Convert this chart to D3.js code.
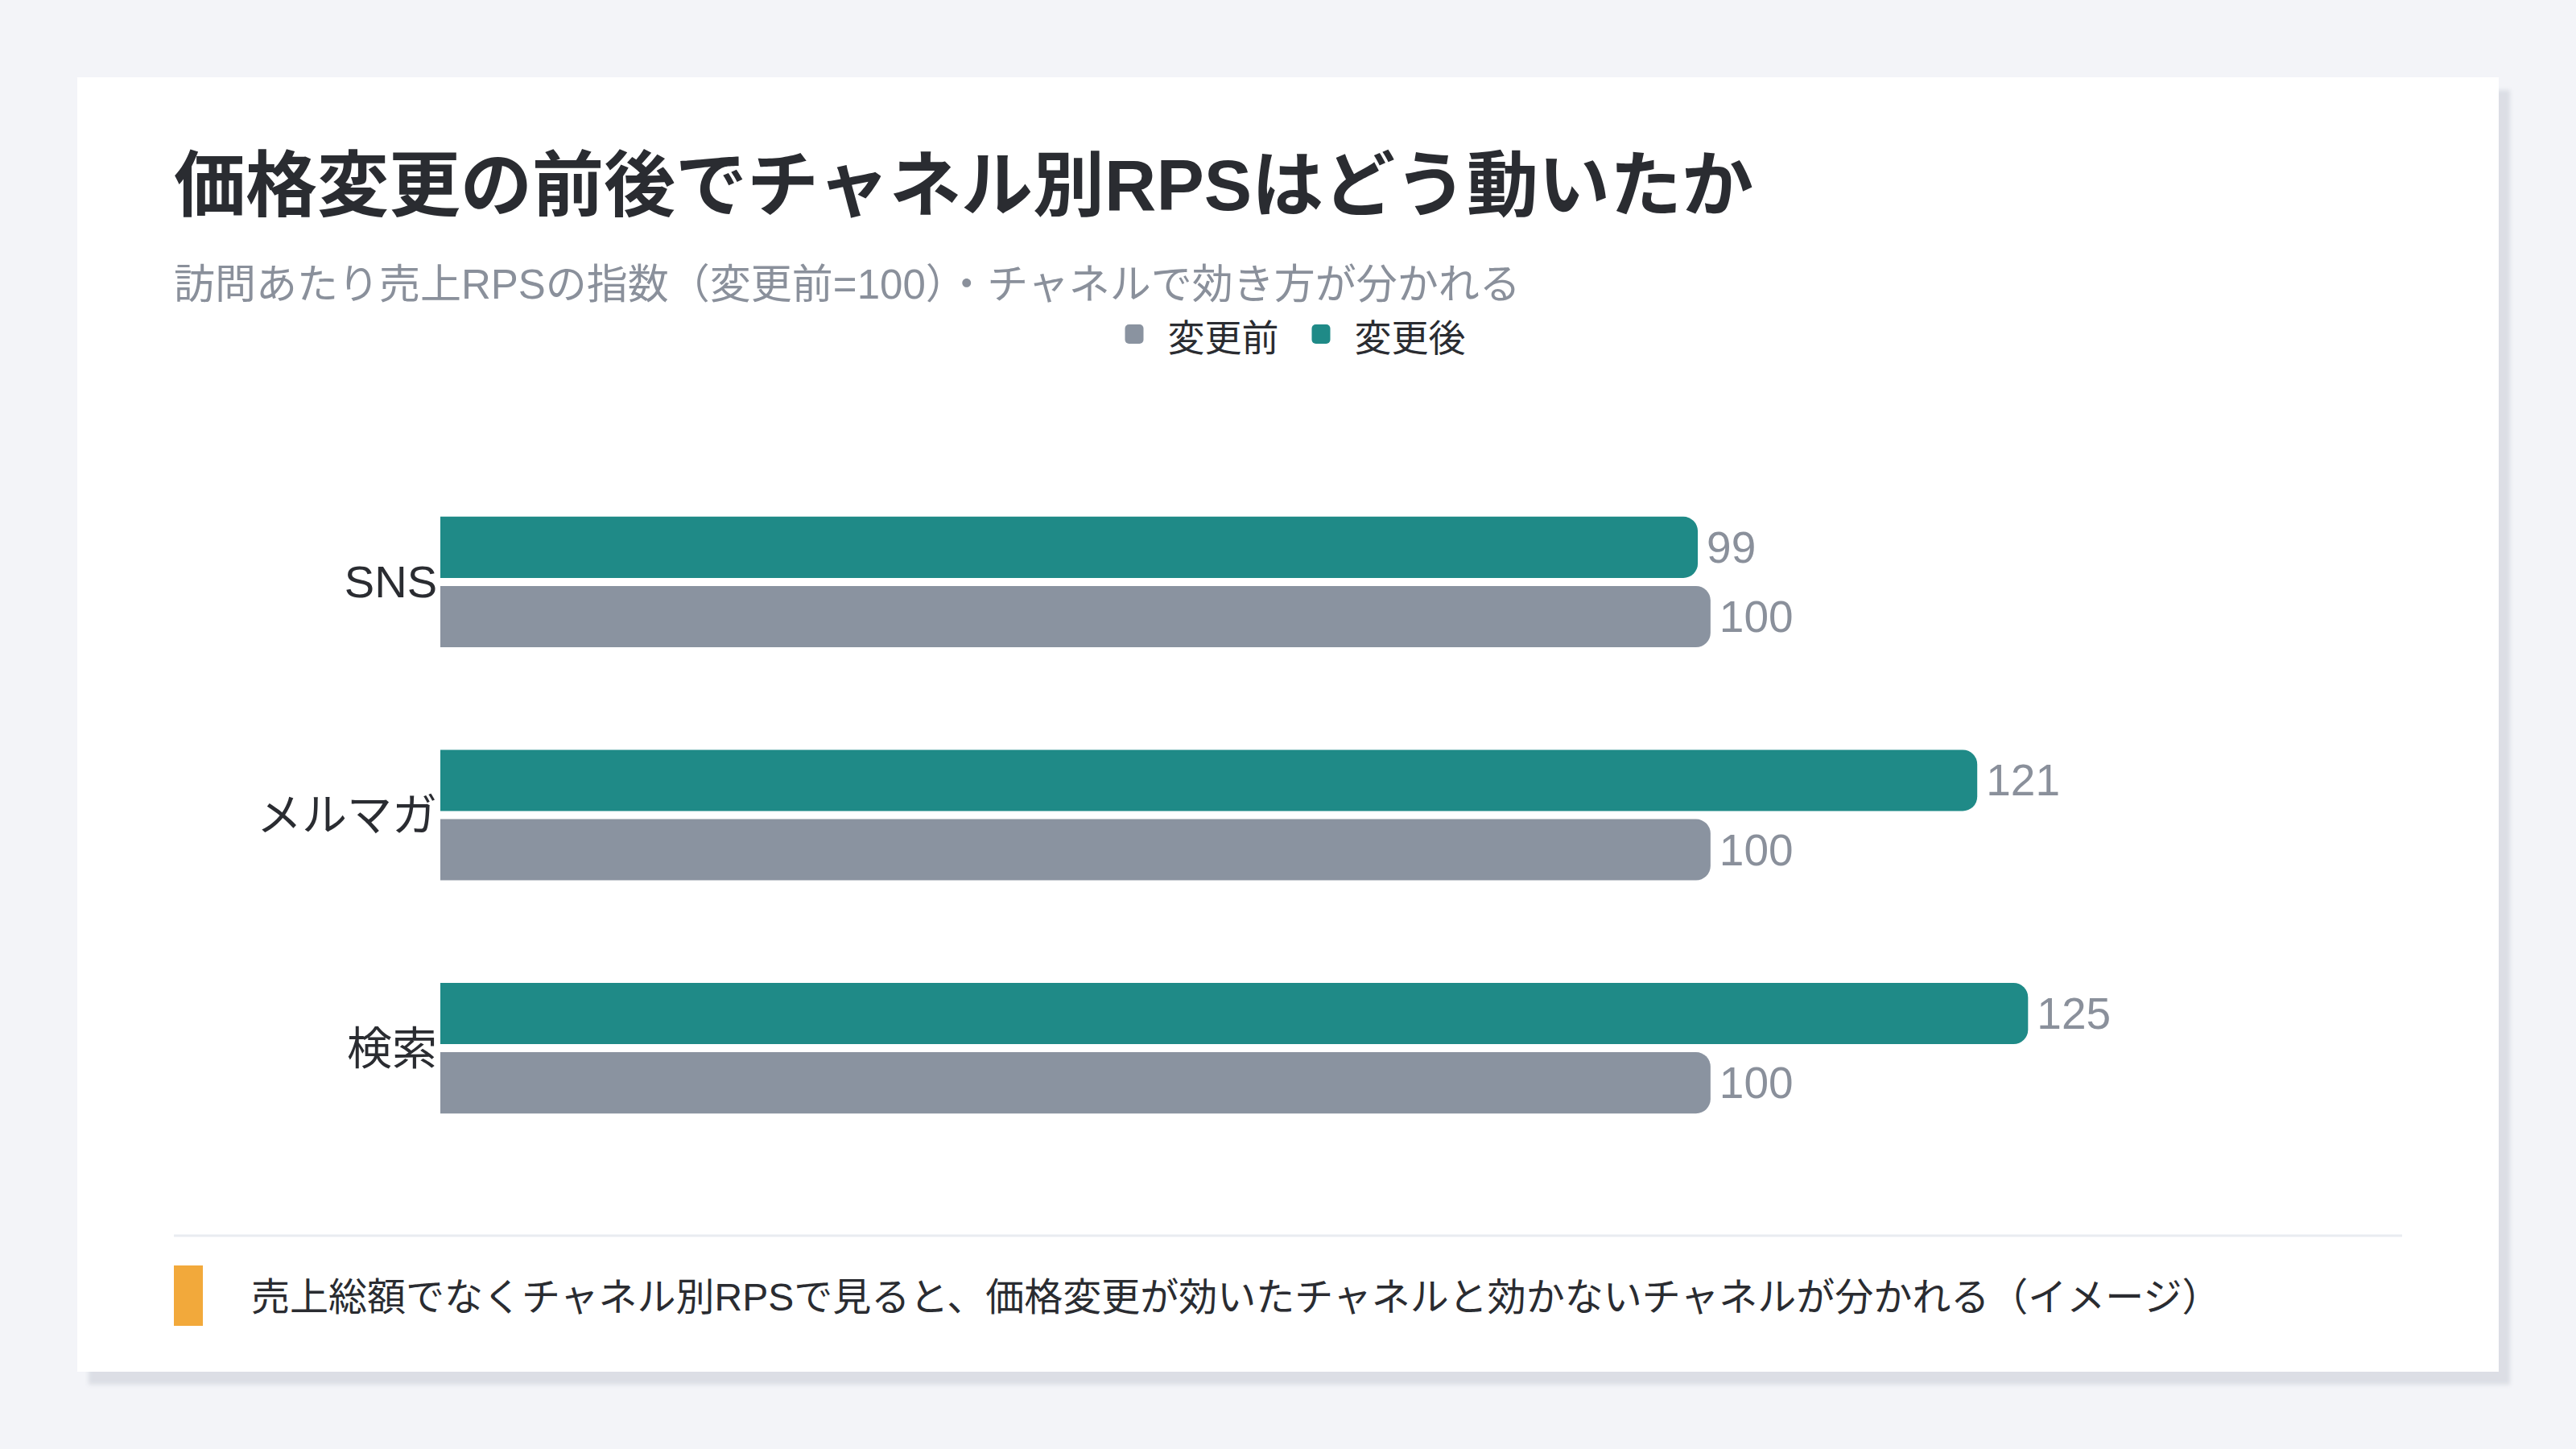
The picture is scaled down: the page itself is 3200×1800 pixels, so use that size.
<!DOCTYPE html>
<html lang="ja">
<head>
<meta charset="utf-8">
<script src="https://cdn.jsdelivr.net/npm/d3@7"></script>
<style>
  html, body { margin: 0; padding: 0; background: #f3f4f8; }
  body { width: 3200px; height: 1800px; position: relative; overflow: hidden; }
  .card {
    position: absolute; left: 96px; top: 96px; width: 3008px; height: 1608px;
    background: #fff;
    box-shadow: 14px 16px 5px rgba(100, 110, 130, 0.16);
  }
  svg { position: absolute; left: 0; top: 0; }
  text { font-family: "Liberation Sans", "Noto Sans CJK JP", sans-serif; }
</style>
</head>
<body>
<div class="card"></div>
<svg id="chart" width="3200" height="1800"></svg>
<script>
// data
const categories = ["SNS", "メルマガ", "検索"];
const seriesNames = ["変更後", "変更前"];
const legendNames = ["変更前", "変更後"];
const afterValues = [99, 121, 125];
const beforeValues = [100, 100, 100];

const title = "価格変更の前後でチャネル別RPSはどう動いたか";
const subtitle = "訪問あたり売上RPSの指数（変更前=100）・チャネルで効き方が分かれる";
const footnote = "売上総額でなくチャネル別RPSで見ると、価格変更が効いたチャネルと効かないチャネルが分かれる（イメージ）";

const colors = { "変更前": "#8a93a0", "変更後": "#1f8a87" };

const rows = categories.map((c, i) => ({
  category: c,
  values: { "変更後": afterValues[i], "変更前": beforeValues[i] }
}));

const svg = d3.select("#chart");

// header
svg.append("text")
  .attr("x", 216).attr("y", 261)
  .attr("font-size", 89).attr("font-weight", 700)
  .attr("fill", "#2a2c31")
  .text(title);

svg.append("text")
  .attr("x", 216).attr("y", 371)
  .attr("font-size", 51)
  .attr("fill", "#8a909b")
  .text(subtitle);

// legend, centred
const legend = svg.append("g");
let lx = 0;
legendNames.forEach((name, i) => {
  const item = legend.append("g").attr("transform", `translate(${lx},0)`);
  item.append("rect")
    .attr("x", 0).attr("y", -33)
    .attr("width", 23).attr("height", 24).attr("rx", 5)
    .attr("fill", colors[name]);
  const t = item.append("text")
    .attr("x", 53).attr("y", 0)
    .attr("font-size", 46)
    .attr("fill", "#2a2c31")
    .text(name);
  lx += 53 + t.node().getComputedTextLength() + 41;
});
const legendWidth = lx - 41;
legend.attr("transform", `translate(${1609 - legendWidth / 2},436)`);

// scales
const y0 = d3.scaleBand()
  .domain(categories)
  .range([526, 1499])
  .paddingInner(0.44)
  .paddingOuter(0.4);

const y1 = d3.scaleBand()
  .domain(seriesNames)
  .range([0, y0.bandwidth()])
  .paddingInner(0.1163);

const x = d3.scaleLinear()
  .domain([0, 140])
  .range([547, 2756]);

// bar with rounded right end
function barPath(x0, y, w, h, r) {
  r = Math.min(r, w, h / 2);
  return `M${x0},${y}H${x0 + w - r}A${r},${r} 0 0 1 ${x0 + w},${y + r}` +
    `V${y + h - r}A${r},${r} 0 0 1 ${x0 + w - r},${y + h}H${x0}Z`;
}

const groups = svg.append("g")
  .selectAll("g")
  .data(rows)
  .join("g")
  .attr("transform", d => `translate(0,${y0(d.category)})`);

groups.selectAll("path")
  .data(d => seriesNames.map(s => ({ key: s, value: d.values[s] })))
  .join("path")
  .attr("d", d => barPath(x(0), y1(d.key), x(d.value) - x(0), y1.bandwidth(), 18))
  .attr("fill", d => colors[d.key]);

groups.selectAll("text.val")
  .data(d => seriesNames.map(s => ({ key: s, value: d.values[s] })))
  .join("text")
  .attr("class", "val")
  .attr("x", d => x(d.value) + 11)
  .attr("y", d => y1(d.key) + y1.bandwidth() / 2)
  .attr("dominant-baseline", "central")
  .attr("font-size", 55)
  .attr("fill", "#8a909b")
  .text(d => d.value);

// category axis
const yAxis = svg.append("g")
  .attr("transform", `translate(${x(0)},0)`)
  .call(d3.axisLeft(y0).tickSize(0).tickPadding(4));
yAxis.select(".domain").remove();
yAxis.selectAll("text")
  .attr("font-size", 56)
  .attr("fill", "#2a2c31")
  .attr("dy", null)
  .attr("dominant-baseline", "central")
  .style("font-family", "\"Liberation Sans\", \"Noto Sans CJK JP\", sans-serif");

// footer
svg.append("line")
  .attr("x1", 216).attr("x2", 2984)
  .attr("y1", 1535).attr("y2", 1535)
  .attr("stroke", "#e9ecf1").attr("stroke-width", 3);

svg.append("rect")
  .attr("x", 216).attr("y", 1572)
  .attr("width", 36).attr("height", 75)
  .attr("fill", "#f2a93b");

svg.append("text")
  .attr("x", 312).attr("y", 1628)
  .attr("font-size", 48)
  .attr("fill", "#2a2c31")
  .text(footnote);
</script>
</body>
</html>
